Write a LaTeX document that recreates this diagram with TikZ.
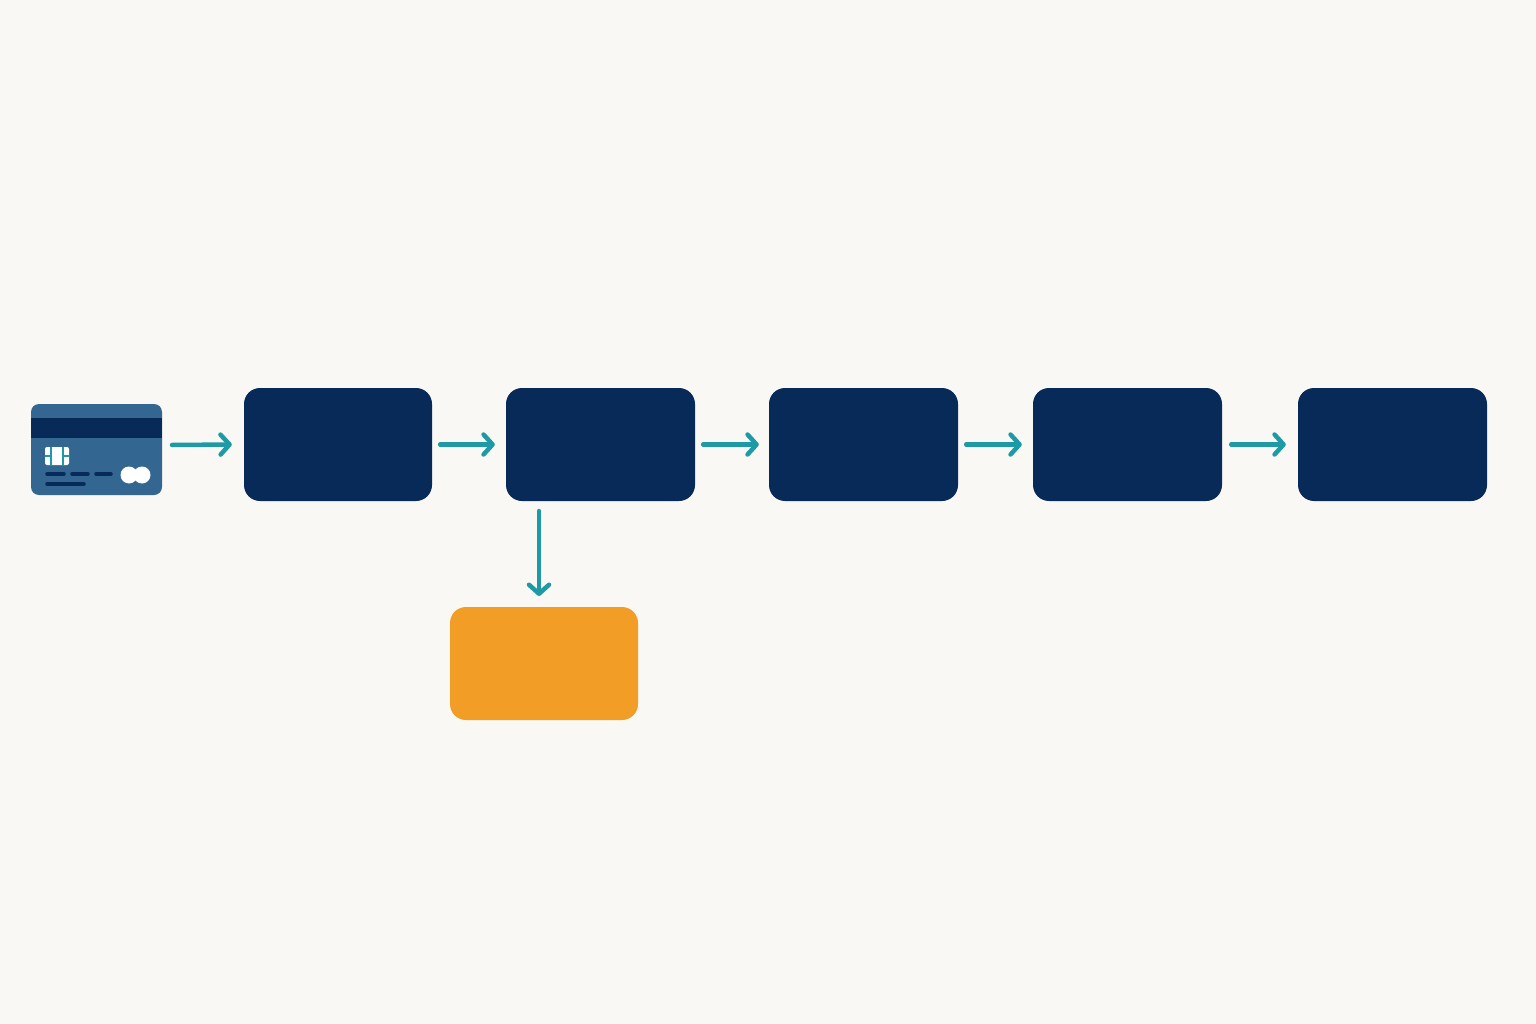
\documentclass[tikz,border=0pt]{standalone}
\usetikzlibrary{arrows.meta}
\definecolor{bg}{HTML}{FAF8F4}
\definecolor{navy}{HTML}{072A58}
\definecolor{cardb}{HTML}{336690}
\definecolor{teal}{HTML}{1E9AA6}
\definecolor{orng}{HTML}{F29E26}
\begin{document}
\begin{tikzpicture}[x=1pt,y=-1pt,
  box/.style={fill=navy,rounded corners=16pt,draw=none},
  arr/.style={draw=teal,line width=4.5pt,line cap=round,-{Straight Barb[length=9pt,width=20pt,line width=4.5pt,round]}}]
\useasboundingbox[fill=bg] (0,0) rectangle (1536,1024);
% card
\fill[cardb,rounded corners=8pt] (31,404) rectangle (162,495);
\fill[navy] (31,418) rectangle (162,438);
\fill[white,rounded corners=2pt] (45,447) rectangle (69,465);
\draw[teal,line width=1.5pt] (51,447)--(51,465) (63,447)--(63,465) (45,456)--(51,456) (63,456)--(69,456);
\draw[navy,line width=3.5pt,line cap=round] (47,474)--(64,474) (72,474)--(88,474) (96,474)--(111,474) (47,484)--(84,484);
\fill[white] (129,475) circle (8.5) (142,475) circle (8.5);
\coordinate (card) at (162,445);
\node[box,minimum width=188pt,minimum height=113pt] (b1) at (338,444.5) {};
\node[box,minimum width=189pt,minimum height=113pt] (b2) at (600.5,444.5) {};
\node[box,minimum width=189pt,minimum height=113pt] (b3) at (863.5,444.5) {};
\node[box,minimum width=189pt,minimum height=113pt] (b4) at (1127.5,444.5) {};
\node[box,minimum width=189pt,minimum height=113pt] (b5) at (1392.5,444.5) {};
\node[fill=orng,rounded corners=16pt,minimum width=188pt,minimum height=113pt] (o) at (544,663.5) {};
\draw[arr] ([xshift=10pt]card) -- ([xshift=-12pt]b1.west);
\draw[arr] ([xshift=8pt]b1.east) -- ([xshift=-11pt]b2.west);
\draw[arr] ([xshift=8pt]b2.east) -- ([xshift=-10pt]b3.west);
\draw[arr] ([xshift=8pt]b3.east) -- ([xshift=-11pt]b4.west);
\draw[arr] ([xshift=9pt]b4.east) -- ([xshift=-12pt]b5.west);
\draw[arr] (539,511) -- (539,596);
\end{tikzpicture}
\end{document}
